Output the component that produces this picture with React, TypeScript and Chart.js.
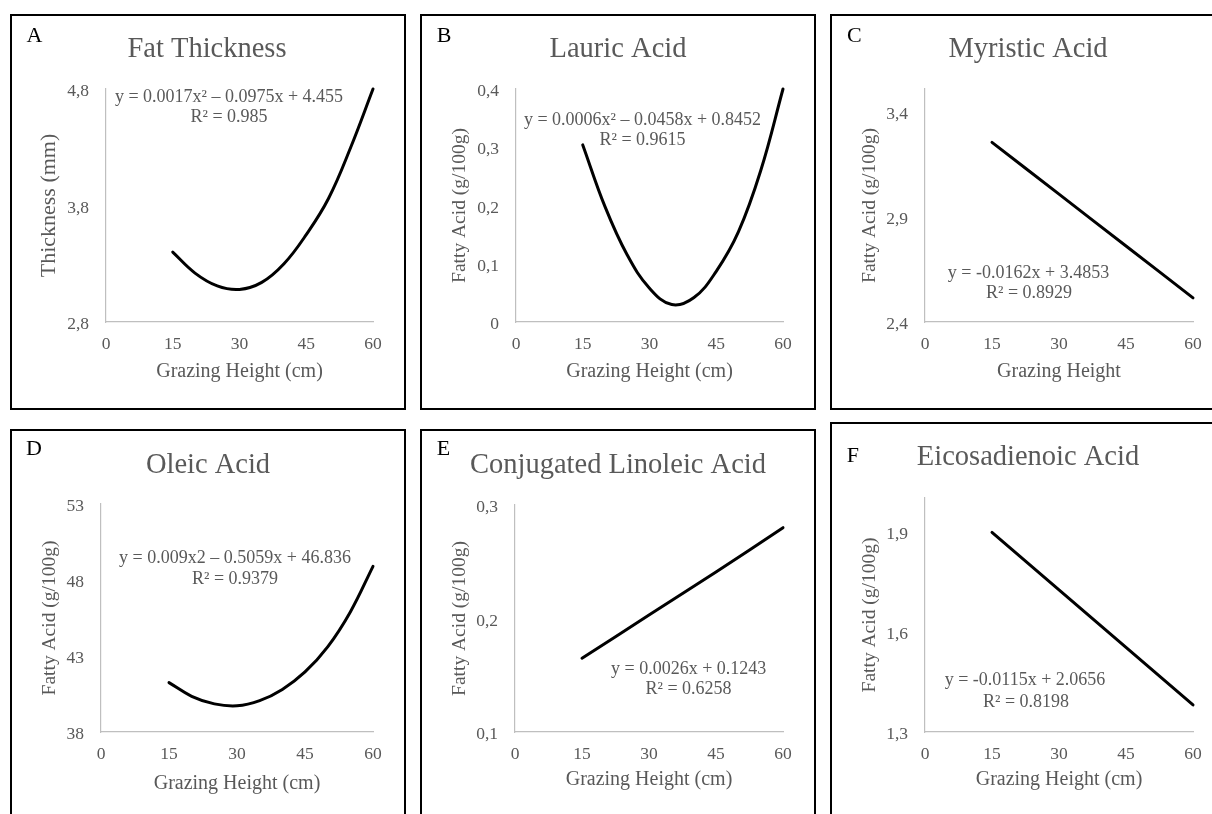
import React, { useEffect, useRef } from "react";
import { Chart, registerables } from "chart.js";

Chart.register(...registerables);

const FONT = "'Liberation Serif', 'Times New Roman', serif";
const GRAY = "#595959";
const AXIS = "#bfbfbf";

// ---- data ----
const xCurve = [15, 20, 25, 30, 35, 40, 45, 50, 55, 60];
const xLine = [15, 30, 45, 60];
const xTicks = [0, 15, 30, 45, 60];
const xTickLabels = ["0", "15", "30", "45", "60"];

const fatThickness = [3.4, 3.22, 3.11, 3.08, 3.14, 3.3, 3.55, 3.86, 4.3, 4.8];
const lauricAcid = [0.304, 0.198, 0.115, 0.058, 0.03, 0.042, 0.087, 0.155, 0.26, 0.4];
const myristicAcid = [3.256, 3.009, 2.762, 2.515];
const oleicAcid = [41.25, 40.35, 39.85, 39.72, 40.06, 40.8, 41.95, 43.6, 45.9, 48.9];
const claAcid = [0.165, 0.203, 0.241, 0.28];
const eicosadienoicAcid = [1.897, 1.725, 1.553, 1.381];

const yTicksA = [2.8, 3.8, 4.8];
const yLabelsA = ["2,8", "3,8", "4,8"];
const yTicksB = [0, 0.1, 0.2, 0.3, 0.4];
const yLabelsB = ["0", "0,1", "0,2", "0,3", "0,4"];
const yTicksC = [2.4, 2.9, 3.4];
const yLabelsC = ["2,4", "2,9", "3,4"];
const yTicksD = [38, 43, 48, 53];
const yLabelsD = ["38", "43", "48", "53"];
const yTicksE = [0.1, 0.2, 0.3];
const yLabelsE = ["0,1", "0,2", "0,3"];
const yTicksF = [1.3, 1.6, 1.9];
const yLabelsF = ["1,3", "1,6", "1,9"];

const titles = [
  "Fat Thickness",
  "Lauric Acid",
  "Myristic Acid",
  "Oleic Acid",
  "Conjugated Linoleic Acid",
  "Eicosadienoic Acid",
];
const letters = ["A", "B", "C", "D", "E", "F"];
const equations = [
  ["y = 0.0017x\u00B2 \u2013 0.0975x + 4.455", "R\u00B2 = 0.985"],
  ["y = 0.0006x\u00B2 \u2013 0.0458x + 0.8452", "R\u00B2 = 0.9615"],
  ["y = -0.0162x + 3.4853", "R\u00B2 = 0.8929"],
  ["y = 0.009x2 \u2013 0.5059x + 46.836", "R\u00B2 = 0.9379"],
  ["y = 0.0026x + 0.1243", "R\u00B2 = 0.6258"],
  ["y = -0.0115x + 2.0656", "R\u00B2 = 0.8198"],
];
const yTitles = [
  "Thickness (mm)",
  "Fatty Acid (g/100g)",
  "Fatty Acid (g/100g)",
  "Fatty Acid (g/100g)",
  "Fatty Acid (g/100g)",
  "Fatty Acid (g/100g)",
];
const xTitles = [
  "Grazing Height (cm)",
  "Grazing Height (cm)",
  "Grazing Height",
  "Grazing Height (cm)",
  "Grazing Height (cm)",
  "Grazing Height (cm)",
];

// ---- layout / style ----
const W = 396;
const H = 396;

type PanelCfg = {
  idx: number;
  xs: number[];
  ys: number[];
  yMin: number;
  yMax: number;
  yTicks: number[];
  yLabels: string[];
  pos: [number, number];
  area: { left: number; right: number; top: number; bottom: number };
  letterPos: [number, number];
  titlePos: [number, number];
  eqPos: [number, number][];
  yTitleSize: number;
  yTitlePad: number;
  xTitlePad: number;
};

const panels: PanelCfg[] = [
  {
    idx: 0, xs: xCurve, ys: fatThickness, yMin: 2.8, yMax: 4.8, yTicks: yTicksA, yLabels: yLabelsA,
    pos: [10, 14], area: { left: 96, right: 363, top: 75, bottom: 308 },
    letterPos: [16.5, 27.5], titlePos: [197, 43], eqPos: [[219, 88], [219, 108]],
    yTitleSize: 22, yTitlePad: 26.2, xTitlePad: 26.3,
  },
  {
    idx: 1, xs: xCurve, ys: lauricAcid, yMin: 0, yMax: 0.4, yTicks: yTicksB, yLabels: yLabelsB,
    pos: [420, 14], area: { left: 96, right: 363, top: 75, bottom: 308 },
    letterPos: [16.7, 28], titlePos: [198, 43], eqPos: [[222.5, 111], [222.5, 131]],
    yTitleSize: 19.5, yTitlePad: 28.6, xTitlePad: 26.3,
  },
  {
    idx: 2, xs: xLine, ys: myristicAcid, yMin: 2.4, yMax: 3.51, yTicks: yTicksC, yLabels: yLabelsC,
    pos: [830, 14], area: { left: 95, right: 363, top: 75, bottom: 308 },
    letterPos: [17, 28], titlePos: [198, 43], eqPos: [[198.5, 264], [199, 284]],
    yTitleSize: 19.5, yTitlePad: 28.6, xTitlePad: 26.3,
  },
  {
    idx: 3, xs: xCurve, ys: oleicAcid, yMin: 38, yMax: 53, yTicks: yTicksD, yLabels: yLabelsD,
    pos: [10, 429], area: { left: 91, right: 363, top: 75, bottom: 303 },
    letterPos: [16, 25.5], titlePos: [198, 43.7], eqPos: [[225, 134], [225, 155]],
    yTitleSize: 19.5, yTitlePad: 28.6, xTitlePad: 29,
  },
  {
    idx: 4, xs: xLine, ys: claAcid, yMin: 0.1, yMax: 0.3, yTicks: yTicksE, yLabels: yLabelsE,
    pos: [420, 429], area: { left: 95, right: 363, top: 76, bottom: 303 },
    letterPos: [16.7, 25.5], titlePos: [198, 43.7], eqPos: [[268.7, 244.5], [268.5, 265]],
    yTitleSize: 19.5, yTitlePad: 28.6, xTitlePad: 33,
  },
  {
    idx: 5, xs: xLine, ys: eicosadienoicAcid, yMin: 1.3, yMax: 2.0, yTicks: yTicksF, yLabels: yLabelsF,
    pos: [830, 422], area: { left: 95, right: 363, top: 76, bottom: 310 },
    letterPos: [16.7, 40], titlePos: [198, 43], eqPos: [[195, 263], [196, 284.7]],
    yTitleSize: 19.5, yTitlePad: 28.6, xTitlePad: 26,
  },
];

function makeTextPlugin(p: PanelCfg) {
  return {
    id: "panelText" + p.idx,
    afterDraw(chart: any) {
      const ctx = chart.ctx;
      ctx.save();
      ctx.textBaseline = "alphabetic";
      ctx.fillStyle = "#000";
      ctx.textAlign = "left";
      ctx.font = `22px ${FONT}`;
      ctx.fillText(letters[p.idx], p.letterPos[0], p.letterPos[1]);
      ctx.fillStyle = GRAY;
      ctx.textAlign = "center";
      ctx.font = `28.5px ${FONT}`;
      ctx.fillText(titles[p.idx], p.titlePos[0], p.titlePos[1]);
      ctx.font = `18px ${FONT}`;
      equations[p.idx].forEach((line, i) => {
        ctx.fillText(line, p.eqPos[i][0], p.eqPos[i][1]);
      });
      ctx.restore();
    },
  };
}

function Panel({ p }: { p: PanelCfg }) {
  const ref = useRef<HTMLCanvasElement | null>(null);
  useEffect(() => {
    if (!ref.current) return;
    const chart = new Chart(ref.current, {
      type: "line",
      data: {
        datasets: [
          {
            data: p.xs.map((x, i) => ({ x, y: p.ys[i] })),
            borderColor: "#000",
            borderWidth: 3,
            pointRadius: 0,
            fill: false,
            tension: 0.4,
            borderCapStyle: "round",
            borderJoinStyle: "round",
            clip: 8,
          } as any,
        ],
      },
      options: {
        animation: false,
        responsive: false,
        events: [],
        layout: { padding: { left: 0, top: p.area.top, right: W - p.area.right, bottom: 0 } },
        plugins: {
          legend: { display: false },
          tooltip: { enabled: false },
          title: { display: false },
        },
        scales: {
          x: {
            type: "linear",
            min: 0,
            max: 60,
            afterBuildTicks: (s: any) => {
              s.ticks = xTicks.map((v) => ({ value: v }));
            },
            afterFit: (s: any) => {
              s.height = H - p.area.bottom;
            },
            grid: { display: false, drawTicks: false },
            border: { display: true, color: AXIS, width: 1.2 },
            ticks: {
              color: GRAY,
              font: { family: FONT, size: 17.5 },
              padding: 12,
              maxRotation: 0,
              autoSkip: false,
              callback: (_v: any, i: number) => xTickLabels[i],
            },
            title: {
              display: true,
              text: xTitles[p.idx],
              color: GRAY,
              font: { family: FONT, size: 20 },
              padding: { top: 0, bottom: p.xTitlePad },
            },
          },
          y: {
            type: "linear",
            min: p.yMin,
            max: p.yMax,
            afterBuildTicks: (s: any) => {
              s.ticks = p.yTicks.map((v) => ({ value: v }));
            },
            afterFit: (s: any) => {
              s.width = p.area.left;
            },
            grid: { display: false, drawTicks: false },
            border: { display: true, color: AXIS, width: 1.2 },
            ticks: {
              color: GRAY,
              font: { family: FONT, size: 17.5 },
              padding: 17,
              labelOffset: 2.5,
              autoSkip: false,
              callback: (_v: any, i: number) => p.yLabels[i],
            },
            title: {
              display: true,
              text: yTitles[p.idx],
              color: GRAY,
              font: { family: FONT, size: p.yTitleSize },
              padding: { top: p.yTitlePad, bottom: 0 },
            },
          },
        },
      } as any,
      plugins: [makeTextPlugin(p)],
    });
    return () => chart.destroy();
  }, [p]);

  return (
    <div
      style={{
        position: "absolute",
        left: p.pos[0],
        top: p.pos[1],
        width: W,
        height: H,
        background: "#fff",
      }}
    >
      <canvas ref={ref} width={W} height={H} style={{ position: "absolute", left: 0, top: 0, width: W, height: H }} />
      <div
        style={{
          position: "absolute",
          left: 0,
          top: 0,
          width: W,
          height: H,
          border: "2px solid #000",
          boxSizing: "border-box",
          pointerEvents: "none",
        }}
      />
    </div>
  );
}

export default function App() {
  return (
    <div
      style={{
        position: "absolute",
        left: 0,
        top: 0,
        width: 1212,
        height: 814,
        overflow: "hidden",
        background: "#fff",
      }}
    >
      {panels.map((p) => (
        <Panel key={p.idx} p={p} />
      ))}
    </div>
  );
}
